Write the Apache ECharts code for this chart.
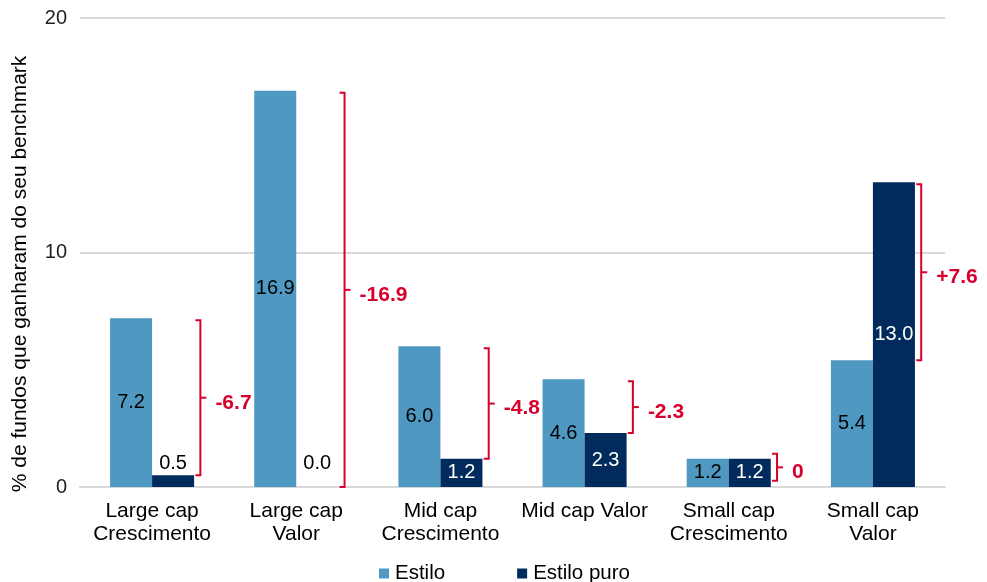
<!DOCTYPE html>
<html>
<head>
<meta charset="utf-8">
<script src="https://cdn.jsdelivr.net/npm/echarts@6/dist/echarts.min.js"></script>
<style>
html,body{margin:0;padding:0;background:#fff;}
#chart{width:987px;height:582px;}
</style>
</head>
<body>
<div id="chart"></div>
<script>
var categories = ['Large cap\nCrescimento', 'Large cap\nValor', 'Mid cap\nCrescimento', 'Mid cap Valor', 'Small cap\nCrescimento', 'Small cap\nValor'];
var estilo = [7.2, 16.9, 6.0, 4.6, 1.2, 5.4];
var estiloPuro = [0.5, 0.0, 1.2, 2.3, 1.2, 13.0];
var diffLabels = ['-6.7', '-16.9', '-4.8', '-2.3', '0', '+7.6'];
var yTicks = [0, 10, 20];

var FONT = 'Liberation Sans, Arial, sans-serif';
var RED = '#d8002c';
var C1 = '#4f98c2';
var C2 = '#002b5c';

var chart = echarts.init(document.getElementById('chart'), null, {renderer: 'canvas'});

var puroData = estiloPuro.map(function (v, i) {
  var small = v < 1;
  return {
    value: v,
    label: small ? {position: 'insideBottom', distance: 14, color: '#000'} : {}
  };
});

var bracketData = categories.map(function (c, i) {
  return [i, estilo[i], estiloPuro[i], diffLabels[i]];
});

var option = {
  animation: false,
  backgroundColor: '#fff',
  textStyle: {fontFamily: FONT},
  grid: {left: 80, right: 42, top: 18, bottom: 95},
  legend: {
    top: 558,
    left: 374,
    itemWidth: 10,
    itemHeight: 10,
    itemGap: 72,
    icon: 'rect',
    textStyle: {fontSize: 20.5, color: '#000', fontFamily: FONT, padding: [0, 0, 0, 1]},
    data: ['Estilo', 'Estilo puro']
  },
  xAxis: {
    type: 'category',
    data: categories,
    axisLine: {show: true, lineStyle: {color: '#d9d9d9', width: 2}},
    axisTick: {show: false},
    axisLabel: {fontSize: 21, color: '#000', lineHeight: 23, margin: 13, interval: 0, fontFamily: FONT}
  },
  yAxis: {
    type: 'value',
    min: yTicks[0],
    max: yTicks[yTicks.length - 1],
    interval: yTicks[1] - yTicks[0],
    axisLine: {show: false},
    axisTick: {show: false},
    axisLabel: {fontSize: 20, color: '#222', margin: 13, fontFamily: FONT},
    splitLine: {lineStyle: {color: '#d9d9d9', width: 2}}
  },
  graphic: [{
    type: 'text',
    x: 20,
    y: 274,
    rotation: Math.PI / 2,
    style: {
      text: '% de fundos que ganharam do seu benchmark',
      fill: '#000',
      fontSize: 21,
      fontFamily: FONT,
      align: 'center',
      verticalAlign: 'middle'
    }
  }],
  series: [
    {
      name: 'Estilo',
      type: 'bar',
      data: estilo,
      barGap: '0%',
      barCategoryGap: '41.7%',
      itemStyle: {color: C1},
      label: {show: true, position: 'inside', fontSize: 20, color: '#000', fontFamily: FONT, formatter: function (p) { return p.value.toFixed(1); }}
    },
    {
      name: 'Estilo puro',
      type: 'bar',
      data: puroData,
      itemStyle: {color: C2},
      label: {show: true, position: 'inside', fontSize: 20, color: '#fff', fontFamily: FONT, formatter: function (p) { return p.value.toFixed(1); }}
    },
    {
      name: 'bracket',
      type: 'custom',
      data: bracketData,
      z: 5,
      silent: true,
      renderItem: function (params, api) {
        var i = api.value(0);
        var a = api.coord([i, api.value(1)]);
        var b = api.coord([i, api.value(2)]);
        var band = api.size([1, 0])[0];
        var x = a[0] + band * 0.335;
        var y1 = Math.min(a[1], b[1]) + 2;
        var y2 = Math.max(a[1], b[1]);
        if (y2 - y1 < 20) { var m = (y1 + y2) / 2; y1 = m - 6; y2 = m + 21; }
        var ym = (y1 + y2) / 2;
        return {
          type: 'group',
          children: [
            {type: 'polyline', shape: {points: [[x - 5, y1], [x, y1], [x, y2], [x - 5, y2]]}, style: {stroke: RED, lineWidth: 2, fill: null}},
            {type: 'line', shape: {x1: x, y1: ym, x2: x + 6, y2: ym}, style: {stroke: RED, lineWidth: 2}},
            {type: 'text', style: {text: bracketData[params.dataIndex][3], x: x + 15, y: ym + 5, align: 'left', verticalAlign: 'middle', fill: RED, fontSize: 21, fontWeight: 'bold', fontFamily: FONT}}
          ]
        };
      }
    }
  ]
};
chart.setOption(option);
</script>
</body>
</html>
